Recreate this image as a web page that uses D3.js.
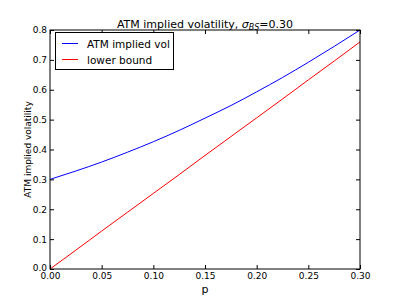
<!DOCTYPE html>
<html><head><meta charset="utf-8">
<script src="https://cdn.jsdelivr.net/npm/d3@7"></script>
<style>body{margin:0;background:#fff}svg{display:block}text{font-family:"DejaVu Sans",sans-serif}</style>
</head><body><svg id="c" width="400" height="300"></svg>
<script>
const pValues = [0, 0.025, 0.05, 0.075, 0.1, 0.125, 0.15, 0.175, 0.2, 0.225, 0.25, 0.275, 0.3];
const atmVol = [0.300, 0.328, 0.358, 0.391, 0.426, 0.464, 0.505, 0.547, 0.593, 0.641, 0.692, 0.745, 0.800];
const lowerBound = [0, 0.063, 0.127, 0.190, 0.253, 0.316, 0.380, 0.443, 0.506, 0.569, 0.633, 0.696, 0.760];
const xTicks = [0, 0.05, 0.10, 0.15, 0.20, 0.25, 0.30];
const yTicks = [0, 0.1, 0.2, 0.3, 0.4, 0.5, 0.6, 0.7, 0.8];
const seriesNames = ["ATM implied vol", "lower bound"];
const seriesColors = ["#0000ff", "#ff0000"];

const L = 50, R = 360, T = 30, B = 269;
const svg = d3.select("#c");
const x = d3.scaleLinear().domain([0, 0.3]).range([L, R]);
const y = d3.scaleLinear().domain([0, 0.8]).range([B, T]);

const line = d3.line().x(d => x(d[0])).y(d => y(d[1]));
[atmVol, lowerBound].forEach((vals, i) => {
  svg.append("path").datum(pValues.map((p, j) => [p, vals[j]]))
    .attr("d", line.curve(d3.curveMonotoneX)).attr("fill", "none")
    .attr("stroke", seriesColors[i]).attr("stroke-width", 1);
});

// frame
svg.append("rect").attr("x", L).attr("y", T).attr("width", R - L).attr("height", B - T)
  .attr("fill", "none").attr("stroke", "#000").attr("stroke-width", 1);

const tl = 4;
const fmtX = d3.format(".2f"), fmtY = d3.format(".1f");
const axB = d3.axisBottom(x).tickValues(xTicks).tickFormat(fmtX).tickSizeInner(-tl).tickSizeOuter(0).tickPadding(4);
const gB = svg.append("g").attr("transform", `translate(0,${B})`).call(axB);
const axT = d3.axisTop(x).tickValues(xTicks).tickFormat("").tickSizeInner(-tl).tickSizeOuter(0);
const gT = svg.append("g").attr("transform", `translate(0,${T})`).call(axT);
const axL = d3.axisLeft(y).tickValues(yTicks).tickFormat(fmtY).tickSizeInner(-tl).tickSizeOuter(0).tickPadding(3);
const gL = svg.append("g").attr("transform", `translate(${L},0)`).call(axL);
const axR = d3.axisRight(y).tickValues(yTicks).tickFormat("").tickSizeInner(-tl).tickSizeOuter(0);
const gR = svg.append("g").attr("transform", `translate(${R},0)`).call(axR);
[gB, gT, gL, gR].forEach(g => {
  g.select(".domain").remove();
  g.selectAll("text").attr("font-family", "DejaVu Sans").attr("font-size", 9).attr("fill", "#000");
  g.selectAll("line").attr("stroke", "#000");
});
// lift the y=0.0 label slightly as in the reference
gL.selectAll(".tick text").filter(d => d === 0).attr("dy", "0.2em");

// title
const title = svg.append("text").attr("x", (L + R) / 2).attr("y", 27.5).attr("text-anchor", "middle")
  .attr("font-size", 11);
title.append("tspan").text("ATM implied volatility, ");
title.append("tspan").attr("font-style", "italic").text("σ");
title.append("tspan").attr("font-style", "italic").attr("font-size", 8).attr("dy", 2).text("BS");
title.append("tspan").attr("dy", -2).text("=0.30");

// axis labels
svg.append("text").attr("x", (L + R) / 2).attr("y", 293).attr("text-anchor", "middle").attr("font-size", 11).text("p");
svg.append("text").attr("transform", `translate(31,${(T + B) / 2}) rotate(-90)`).attr("text-anchor", "middle")
  .attr("font-size", 9).text("ATM implied volatility");

// legend
const lg = svg.append("g");
lg.append("rect").attr("x", 55.5).attr("y", 32.5).attr("width", 118).attr("height", 37)
  .attr("fill", "#fff").attr("stroke", "#000").attr("stroke-width", 1);
seriesNames.forEach((n, i) => {
  const yy = 43.5 + i * 16;
  lg.append("line").attr("x1", 62).attr("x2", 78).attr("y1", yy).attr("y2", yy)
    .attr("stroke", seriesColors[i]).attr("stroke-width", 1);
  lg.append("text").attr("x", 87).attr("y", yy + 4).attr("font-size", 10.5).text(n);
});
</script></body></html>
